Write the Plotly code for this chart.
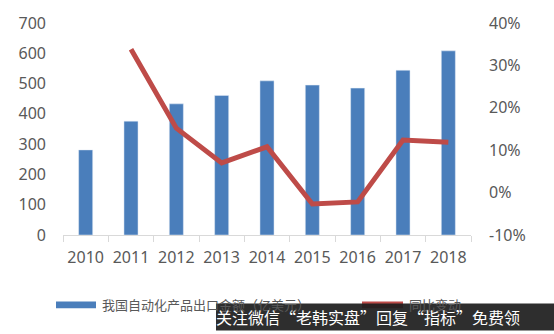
import plotly.graph_objects as go

years = ["2010", "2011", "2012", "2013", "2014", "2015", "2016", "2017", "2018"]
export_value = [281, 376, 433, 461, 509, 495, 485, 544, 608]
yoy_change = [None, 0.338, 0.152, 0.070, 0.108, -0.027, -0.022, 0.124, 0.119]
left_ticks = [0, 100, 200, 300, 400, 500, 600, 700]
right_ticks = [-0.1, 0.0, 0.1, 0.2, 0.3, 0.4]
right_ticktext = ["-10%", "0%", "10%", "20%", "30%", "40%"]
bar_name = "我国自动化产品出口金额（亿美元）"
line_name = "同比变动"
watermark = "关注微信“老韩实盘”回复“指标”免费领"

BLUE = "#4A7EBB"
RED = "#BE4B48"
GRAY = "#595959"
FONT = "Noto Sans, Noto Sans CJK SC, sans-serif"

W, H = 554, 334
L, R, T, B = 63, 83, 15, 99
PW, PH = W - L - R, H - T - B

def px(x):
    return (x - L) / PW

def py(y):
    return (H - B - y) / PH

fig = go.Figure()
fig.add_trace(go.Bar(x=years, y=export_value, marker_color=BLUE, width=0.31,
                     name=bar_name, showlegend=False, yaxis="y"))
fig.add_trace(go.Scatter(x=years, y=yoy_change, mode="lines",
                         line=dict(color=RED, width=5), name=line_name,
                         showlegend=False, yaxis="y2"))

shapes = []
annotations = []
# legend
shapes.append(dict(type="rect", xref="paper", yref="paper",
                   x0=px(56), x1=px(96), y0=py(304), y1=py(311),
                   fillcolor=BLUE, line_width=0))
annotations.append(dict(xref="paper", yref="paper", x=px(100), y=py(307.5),
                        text=bar_name, showarrow=False, xanchor="left",
                        yanchor="middle", font=dict(size=13, color=GRAY, family=FONT)))
shapes.append(dict(type="rect", xref="paper", yref="paper",
                   x0=px(362), x1=px(403), y0=py(304), y1=py(311),
                   fillcolor=RED, line_width=0))
annotations.append(dict(xref="paper", yref="paper", x=px(407), y=py(307.5),
                        text=line_name, showarrow=False, xanchor="left",
                        yanchor="middle", font=dict(size=13, color=GRAY, family=FONT)))
# watermark overlay
shapes.append(dict(type="rect", xref="paper", yref="paper",
                   x0=px(216), x1=px(554), y0=py(306), y1=py(334),
                   fillcolor="rgba(30,30,30,0.93)", line_width=0, layer="above"))
annotations.append(dict(xref="paper", yref="paper", x=px(368), y=py(320.5),
                        text=watermark, showarrow=False, xanchor="center",
                        yanchor="middle", font=dict(size=16, color="white",
                                                    family="Noto Sans CJK SC")))

fig.update_layout(
    width=W, height=H,
    margin=dict(l=L, r=R, t=T, b=B, pad=0),
    paper_bgcolor="white", plot_bgcolor="white",
    font=dict(family=FONT, size=16, color=GRAY),
    bargap=0.69,
    xaxis=dict(type="category", showgrid=False, showline=True, linecolor="#D9D9D9",
               linewidth=1, ticks="outside", tickson="boundaries", ticklen=6,
               tickcolor="#D9D9D9", tickfont=dict(size=16, color=GRAY),
               tickangle=0, ticklabelstandoff=8),
    yaxis=dict(range=[0, 700], tickvals=left_ticks, showgrid=False, zeroline=False,
               showline=False, tickfont=dict(size=16, color=GRAY),
               ticklabelstandoff=16),
    yaxis2=dict(range=[-0.1, 0.4], tickvals=right_ticks, ticktext=right_ticktext,
                overlaying="y", side="right", showgrid=False, zeroline=False,
                showline=False, tickfont=dict(size=16, color=GRAY),
                ticklabelstandoff=17),
    shapes=shapes, annotations=annotations,
    showlegend=False,
)

fig.write_html("out.html")
